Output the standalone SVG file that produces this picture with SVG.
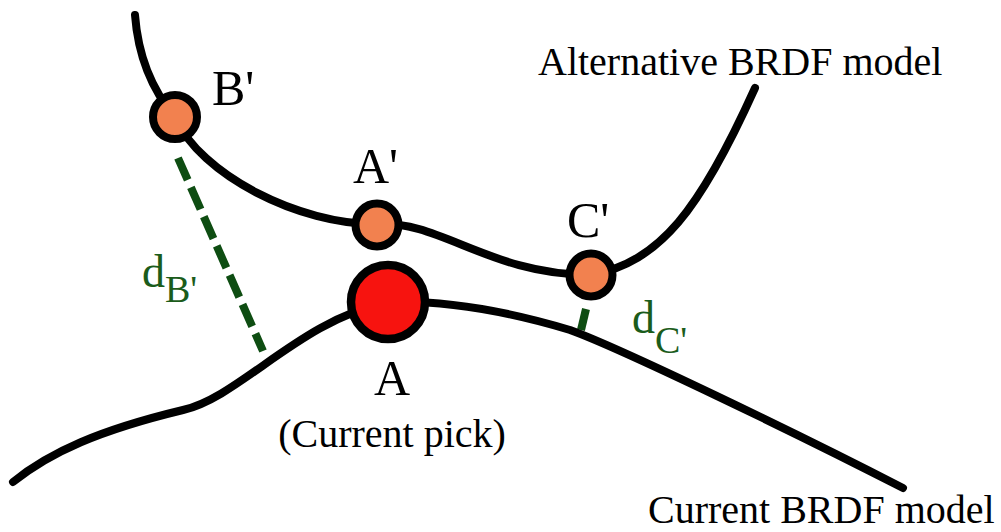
<svg xmlns="http://www.w3.org/2000/svg" width="1001" height="532" viewBox="0 0 1001 532">
<style>
.curve{fill:none;stroke:#000;stroke-width:8;stroke-linecap:round;stroke-linejoin:round}
.dist{fill:none;stroke:#0e4d12;stroke-width:8}
.pt{fill:#f2814f;stroke:#000;stroke-width:8}
.pick{fill:#f7130f;stroke:#000;stroke-width:8.5}
.lbl{font-family:"Liberation Serif","Times New Roman",serif;fill:#000}
.big{font-size:50px}
.cap{font-size:40px}
.gl{font-family:"Liberation Serif","Times New Roman",serif;fill:#1b5c1b}
</style>
<rect width="1001" height="532" fill="#fff"/>
<g id="connectors">
<path class="dist" d="M178,158 L263,351" stroke-dasharray="24 8"/>
<path class="dist" d="M586,309 L581,330" stroke-width="7"/>
<path id="alt-curve" class="curve" d="M135,15 C138,55 152,90 175,117 C200,175 300,225 377,224 C440,220 490,275 591,275 C660,262 700,210 755,88"/>
<path id="cur-curve" class="curve" d="M13,482 C50,452 100,430 183,410 C240,397 300,320 388,302 C450,300 510,312 570,330 C620,348 800,435 903,488"/>
</g>
<g id="node-B">
<circle class="pt" cx="175" cy="117" r="22"/>
<text class="lbl big" x="212" y="105">B'</text>
</g>
<g id="node-Aprime">
<circle class="pt" cx="377" cy="225" r="21.5"/>
<text class="lbl big" x="353" y="183">A'</text>
</g>
<g id="node-C">
<circle class="pt" cx="591" cy="275" r="21.5"/>
<text class="lbl big" x="567" y="237">C'</text>
</g>
<g id="node-A">
<circle class="pick" cx="388" cy="302" r="37"/>
<text class="lbl big" x="392" y="395" text-anchor="middle">A</text>
<text class="lbl cap" x="392" y="447" text-anchor="middle">(Current pick)</text>
</g>
<g id="label-dB">
<text class="gl" x="142" y="287" font-size="46">d<tspan font-size="38" dy="15">B'</tspan></text>
</g>
<g id="label-dC">
<text class="gl" x="632" y="333" font-size="46">d<tspan font-size="38" dy="20">C'</tspan></text>
</g>
<g id="label-alt">
<text class="lbl cap" x="538" y="75">Alternative BRDF model</text>
</g>
<g id="label-cur">
<text class="lbl cap" x="648" y="523">Current BRDF model</text>
</g>
</svg>
